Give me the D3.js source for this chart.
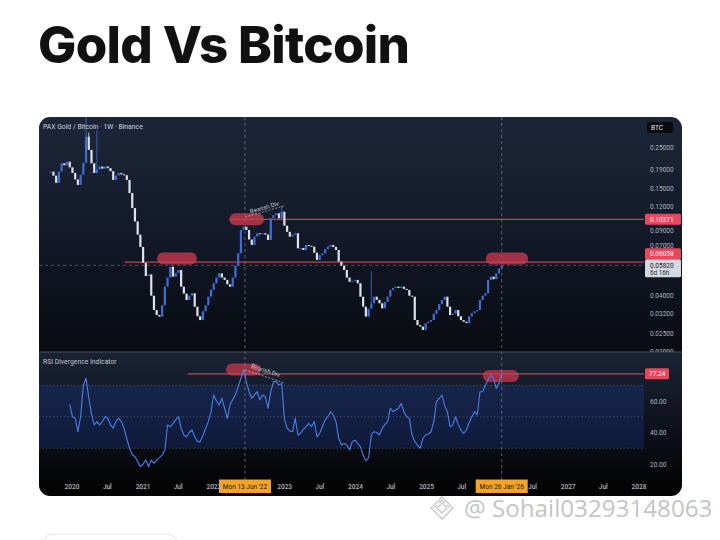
<!DOCTYPE html>
<html>
<head>
<meta charset="utf-8">
<script src="https://cdn.jsdelivr.net/npm/d3@7"></script>
<style>
  html, body { margin: 0; padding: 0; background: #fff; }
  svg { display: block; }
</style>
</head>
<body>
<svg id="chart" width="720" height="540"></svg>
<script>
var startDate = new Date(2019, 8, 16);
var close = [
  0.185, 0.176, 0.161, 0.185, 0.205, 0.200, 0.209, 0.195, 0.182, 0.168,
  0.157, 0.178, 0.206, 0.285, 0.242, 0.205, 0.182, 0.190, 0.197, 0.192,
  0.197, 0.193, 0.186, 0.167, 0.176, 0.182, 0.179, 0.177, 0.167, 0.142,
  0.118, 0.100, 0.085, 0.073, 0.060, 0.051, 0.052, 0.040, 0.0335, 0.0315,
  0.0309, 0.0355, 0.0447, 0.050, 0.0572, 0.0506, 0.053, 0.0549, 0.0447, 0.041,
  0.0379, 0.040, 0.0412, 0.0349, 0.031, 0.0296, 0.033, 0.0355, 0.0395, 0.043,
  0.0466, 0.050, 0.0527, 0.050, 0.0486, 0.046, 0.0447, 0.050, 0.058, 0.0675,
  0.090, 0.0937, 0.090, 0.080, 0.0748, 0.083, 0.0864, 0.086, 0.0864, 0.085,
  0.0796, 0.104, 0.108, 0.1106, 0.104, 0.1128, 0.095, 0.088, 0.0829, 0.085,
  0.0864, 0.0718, 0.072, 0.0703, 0.0748, 0.074, 0.0732, 0.068, 0.0622, 0.066,
  0.0675, 0.071, 0.0732, 0.0748, 0.073, 0.0703, 0.0609, 0.058, 0.0549, 0.050,
  0.0475, 0.048, 0.0486, 0.0466, 0.0395, 0.0349, 0.0309, 0.034, 0.0364, 0.0395,
  0.038, 0.0364, 0.0342, 0.037, 0.0395, 0.0429, 0.044, 0.0447, 0.044, 0.0447,
  0.0435, 0.0429, 0.040, 0.0395, 0.0296, 0.0278, 0.0273, 0.0262, 0.0285, 0.029,
  0.0296, 0.032, 0.0335, 0.036, 0.0379, 0.0395, 0.0349, 0.0315, 0.032, 0.0335,
  0.031, 0.0296, 0.029, 0.0285, 0.031, 0.0322, 0.033, 0.0335, 0.0379, 0.040,
  0.0412, 0.0486, 0.0506, 0.049, 0.0527, 0.056, 0.0582
];
var rsi = [
  null, null, null, null, null, null, null, 57.9, 50, 49,
  40.5, 50, 70, 74.4, 62, 52, 44.8, 46.9, 44.8, 47,
  50, 49, 44.8, 42.7, 47, 49, 46.9, 42.7, 36, 30,
  26, 24.6, 21.5, 18.3, 20, 22.5, 18.3, 22.5, 20.4, 22.5,
  24, 25.7, 28.9, 44.8, 43.7, 45.8, 48, 50, 42.7, 38.4,
  37.3, 40, 41.6, 37.3, 34.2, 34.2, 38, 42.7, 46.9, 53.2,
  63.8, 60, 57.5, 61.7, 55.4, 49, 57.5, 61, 63.8, 69.1,
  74.4, 79.7, 72.3, 65.9, 61.7, 64, 65.9, 60.6, 63.8, 62.7,
  55.4, 66, 72.3, 72.3, 70.2, 71.2, 49, 42.7, 41, 40.5,
  49, 38.4, 39.5, 42, 43.7, 45.8, 43.7, 46.9, 37.3, 39.5,
  43.7, 47.9, 50, 53.2, 51.1, 46.9, 36.3, 32.1, 33, 32.1,
  28.9, 34.2, 35.2, 33, 31, 25.7, 21.9, 24, 38.4, 40.5,
  40, 38.4, 42.7, 45, 46.9, 55.4, 53.2, 54.3, 55.4, 58.5,
  53.2, 50, 49, 38.4, 34.2, 32, 30, 36.3, 38.4, 39,
  40.5, 46.9, 59.6, 61.7, 63.8, 57, 53.2, 43.7, 44.8, 50,
  45, 41.6, 39.5, 41.6, 46, 50, 53.2, 51.1, 65.9, 65.9,
  70, 73.3, 76.5, 74.4, 68.1, 71.2, 77.2
];
// long wicks: [bar index, high]
var wicks = [[13, 0.40], [14, 0.30], [17, 0.31], [85, 0.121], [118, 0.054]];

var priceTicks = [0.25, 0.19, 0.15, 0.12, 0.09, 0.07, 0.04, 0.032, 0.025, 0.02];
var rsiTicks = [60, 40, 20];
var xTicks = ["2020-01-01", "2020-07-01", "2021-01-01", "2021-07-01", "2022-01-01", "2022-07-01",
  "2023-01-01", "2023-07-01", "2024-01-01", "2024-07-01", "2025-01-01", "2025-07-01",
  "2026-01-01", "2026-07-01", "2027-01-01", "2027-07-01", "2028-01-01"];

// horizontal levels [price, start date]
var levels = [[0.10271, "2022-03-25"], [0.06058, "2020-10-01"]];
var rsiLevel = [77.24, "2021-08-22"];
// red highlight pills [from, to, value]
var pricePills = [["2021-03-17", "2021-10-08", 0.0633], ["2022-03-25", "2022-09-19", 0.1028], ["2025-11-06", "2026-06-11", 0.0632]];
var rsiPills = [["2022-03-07", "2022-09-03", 80], ["2025-10-21", "2026-04-24", 75.9]];
// "Bearish Div" segments [from date, from value, to date, to value]
var priceDiv = ["2022-06-13", 0.1055, "2023-01-05", 0.1215];
var rsiDiv = ["2022-06-13", 79.7, "2023-01-05", 71.4];
var crossDates = ["2022-06-13", "2026-01-26"];
var crossLabels = ["Mon 13 Jun '22", "Mon 26 Jan '26"];
var countdown = "6d 16h";

var parse = d3.timeParse("%Y-%m-%d");
var upColor = "#3f6fd6", downColor = "#dfe2ea", redColor = "#e8475c";
var svg = d3.select("#chart");
var box = { x: 39, y: 117, w: 643, h: 379 };
var plotRight = 644, priceBottom = 352, rsiBottom = 480;
var axisFont = "Roboto, 'Open Sans', sans-serif";
var crossHalf = 26;

var x = d3.scaleTime().domain([new Date(2020, 0, 1), new Date(2028, 0, 1)]).range([71.5, 638.5]);
var y = d3.scaleLog().domain([0.02, 0.36]).range([351.8, 117.7]);
var yr = d3.scaleLinear().domain([0, 100]).range([495.5, 338]);

// ---- title ----
var title = svg.append("text")
  .attr("x", 38).attr("y", 63)
  .attr("font-family", "Inter, Lato, sans-serif")
  .attr("font-weight", 800).attr("font-size", 51)
  .attr("fill", "#111").text("Gold Vs Bitcoin");
var tw = title.node().getComputedTextLength();
title.attr("letter-spacing", ((372 - tw) / 14).toFixed(2));

// ---- defs ----
var defs = svg.append("defs");
defs.append("clipPath").attr("id", "boxClip").append("rect")
  .attr("x", box.x).attr("y", box.y).attr("width", box.w).attr("height", box.h).attr("rx", 11);
defs.append("clipPath").attr("id", "priceClip").append("rect")
  .attr("x", box.x).attr("y", box.y).attr("width", plotRight - box.x).attr("height", priceBottom - box.y);
defs.append("clipPath").attr("id", "priceAxisClip").append("rect")
  .attr("x", plotRight).attr("y", box.y).attr("width", box.x + box.w - plotRight).attr("height", priceBottom - box.y);
defs.append("clipPath").attr("id", "rsiClip").append("rect")
  .attr("x", box.x).attr("y", priceBottom).attr("width", plotRight - box.x).attr("height", rsiBottom - priceBottom);

var g1 = defs.append("linearGradient").attr("id", "gPrice").attr("x1", 0).attr("y1", 0).attr("x2", 0).attr("y2", 1);
g1.append("stop").attr("offset", "0%").attr("stop-color", "#1d2639");
g1.append("stop").attr("offset", "55%").attr("stop-color", "#121827");
g1.append("stop").attr("offset", "100%").attr("stop-color", "#090b11");
var g2 = defs.append("linearGradient").attr("id", "gRsi").attr("x1", 0).attr("y1", 0).attr("x2", 0).attr("y2", 1);
g2.append("stop").attr("offset", "0%").attr("stop-color", "#1a2335");
g2.append("stop").attr("offset", "60%").attr("stop-color", "#0d111b");
g2.append("stop").attr("offset", "100%").attr("stop-color", "#040507");

var chart = svg.append("g").attr("clip-path", "url(#boxClip)");

chart.append("rect").attr("x", box.x).attr("y", box.y).attr("width", box.w).attr("height", priceBottom - box.y)
  .attr("fill", "url(#gPrice)");
chart.append("rect").attr("x", box.x).attr("y", priceBottom).attr("width", box.w).attr("height", rsiBottom - priceBottom)
  .attr("fill", "url(#gRsi)");
chart.append("rect").attr("x", box.x).attr("y", rsiBottom).attr("width", box.w).attr("height", box.y + box.h - rsiBottom)
  .attr("fill", "#040405");

// ---- RSI band and guides ----
var rsiG = chart.append("g").attr("clip-path", "url(#rsiClip)");
rsiG.append("rect").attr("x", box.x).attr("width", plotRight - box.x)
  .attr("y", yr(70)).attr("height", yr(30) - yr(70))
  .attr("fill", "#2962ff").attr("fill-opacity", 0.16);
rsiG.selectAll("line.guide").data([70, 50, 30]).join("line").attr("class", "guide")
  .attr("x1", box.x).attr("x2", plotRight)
  .attr("y1", function(d) { return yr(d); }).attr("y2", function(d) { return yr(d); })
  .attr("stroke", "#8a8e99").attr("stroke-opacity", 0.55).attr("stroke-width", 0.7)
  .attr("stroke-dasharray", "1.5,2");

// ---- crosshair ----
chart.selectAll("line.vcross").data(crossDates).join("line").attr("class", "vcross")
  .attr("x1", function(d) { return x(parse(d)); }).attr("x2", function(d) { return x(parse(d)); })
  .attr("y1", box.y).attr("y2", rsiBottom)
  .attr("stroke", "#9598a1").attr("stroke-opacity", 0.8).attr("stroke-width", 0.7)
  .attr("stroke-dasharray", "3,3");

var bars = close.map(function(c, i) {
  return { date: d3.timeDay.offset(startDate, 14 * i), open: i > 0 ? close[i - 1] : c, close: c, rsi: rsi[i] };
});
var last = bars[bars.length - 1];

var priceG = chart.append("g").attr("clip-path", "url(#priceClip)");
priceG.append("line").attr("x1", box.x).attr("x2", plotRight)
  .attr("y1", y(last.close)).attr("y2", y(last.close))
  .attr("stroke", "#9598a1").attr("stroke-opacity", 0.7).attr("stroke-width", 0.7).attr("stroke-dasharray", "3,3");

// ---- price levels & pills ----
priceG.selectAll("line.level").data(levels).join("line").attr("class", "level")
  .attr("x1", function(d) { return x(parse(d[1])); }).attr("x2", plotRight)
  .attr("y1", function(d) { return y(d[0]); }).attr("y2", function(d) { return y(d[0]); })
  .attr("stroke", redColor).attr("stroke-opacity", 0.85).attr("stroke-width", 1.3);

priceG.selectAll("rect.pill").data(pricePills).join("rect").attr("class", "pill")
  .attr("x", function(d) { return x(parse(d[0])); })
  .attr("width", function(d) { return x(parse(d[1])) - x(parse(d[0])); })
  .attr("y", function(d) { return y(d[2]) - 6; }).attr("height", 12).attr("rx", 6)
  .attr("fill", "#d23c50").attr("fill-opacity", 0.75);

// ---- candles ----
priceG.selectAll("line.wick").data(wicks).join("line").attr("class", "wick")
  .attr("x1", function(d) { return x(bars[d[0]].date); }).attr("x2", function(d) { return x(bars[d[0]].date); })
  .attr("y1", function(d) { return y(Math.max(bars[d[0]].open, bars[d[0]].close)); })
  .attr("y2", function(d) { return y(d[1]); })
  .attr("stroke", function(d) { var b = bars[d[0]]; return b.close >= b.open ? upColor : downColor; })
  .attr("stroke-width", 0.8);
priceG.selectAll("rect.bar").data(bars).join("rect").attr("class", "bar")
  .attr("x", function(d) { return x(d.date) - 1.1; }).attr("width", 2.2)
  .attr("y", function(d) { return y(Math.max(d.open, d.close)); })
  .attr("height", function(d) { return Math.max(1, Math.abs(y(d.open) - y(d.close))); })
  .attr("fill", function(d) { return d.close >= d.open ? upColor : downColor; });

// ---- bearish div annotations ----
function divMark(g, seg, ys, off) {
  var x0 = x(parse(seg[0])), y0 = ys(seg[1]), x1 = x(parse(seg[2])), y1 = ys(seg[3]);
  g.append("line").attr("x1", x0).attr("y1", y0).attr("x2", x1).attr("y2", y1)
    .attr("stroke", "#c9ccd4").attr("stroke-width", 0.7).attr("stroke-dasharray", "2,1.5");
  var ang = Math.atan2(y1 - y0, x1 - x0) * 180 / Math.PI;
  g.append("text")
    .attr("transform", "translate(" + ((x0 + x1) / 2) + "," + ((y0 + y1) / 2 - off) + ") rotate(" + ang + ")")
    .attr("text-anchor", "middle").attr("font-family", axisFont).attr("font-size", 6)
    .attr("fill", "#c9ccd4").text("Bearish Div");
}
divMark(priceG, priceDiv, y, 2);

// ---- RSI line, level, pills ----
rsiG.append("line").attr("x1", x(parse(rsiLevel[1]))).attr("x2", plotRight)
  .attr("y1", yr(rsiLevel[0])).attr("y2", yr(rsiLevel[0]))
  .attr("stroke", redColor).attr("stroke-opacity", 0.85).attr("stroke-width", 1.2);
rsiG.selectAll("rect.pill").data(rsiPills).join("rect").attr("class", "pill")
  .attr("x", function(d) { return x(parse(d[0])); })
  .attr("width", function(d) { return x(parse(d[1])) - x(parse(d[0])); })
  .attr("y", function(d) { return yr(d[2]) - 6; }).attr("height", 12).attr("rx", 6)
  .attr("fill", "#d23c50").attr("fill-opacity", 0.7);
rsiG.append("path").datum(bars)
  .attr("d", d3.line().defined(function(d) { return d.rsi != null; })
    .x(function(d) { return x(d.date); }).y(function(d) { return yr(d.rsi); }))
  .attr("fill", "none").attr("stroke", "#4a7fe8").attr("stroke-width", 1.1).attr("stroke-linejoin", "round");
divMark(rsiG, rsiDiv, yr, 4);

// separator between panels
chart.append("line").attr("x1", box.x).attr("x2", box.x + box.w).attr("y1", priceBottom).attr("y2", priceBottom)
  .attr("stroke", "#4a4f5c").attr("stroke-width", 1);

// ---- panel headers ----
chart.append("text").attr("x", 43).attr("y", 129).attr("font-family", axisFont).attr("font-size", 6.8)
  .attr("fill", "#d1d4dc").text("PAX Gold / Bitcoin \u00b7 1W \u00b7 Binance");
chart.append("text").attr("x", 43).attr("y", 364).attr("font-family", axisFont).attr("font-size", 6.8)
  .attr("fill", "#c3c6ce").text("RSI Divergence Indicator");

// ---- right-side label boxes: work out where they sit first ----
var curY = y(last.close);
var curTop = curY - 6;
var levelY = levels.map(function(d) { return Math.min(y(d[0]), curTop - 5.5); });

// ---- price axis ----
var pAxis = chart.append("g").attr("clip-path", "url(#priceAxisClip)").append("g")
  .attr("transform", "translate(" + plotRight + ",0)")
  .call(d3.axisRight(y).tickValues(priceTicks).tickFormat(d3.format(".5f")).tickSize(0).tickPadding(6));
pAxis.select(".domain").remove();
pAxis.selectAll("text").attr("font-family", axisFont).attr("font-size", 6.5).attr("fill", "#b2b5be");
// a tick that falls behind a level box peeks out just above it
pAxis.selectAll(".tick").each(function(v) {
  var ty = y(v);
  levelY.forEach(function(ly) {
    if (Math.abs(ty - ly) < 8 && ty < ly) {
      d3.select(this).select("text").attr("dy", (ly - 5.5 - 2.6 - ty) + "px").attr("dominant-baseline", "middle");
    }
  }, this);
});

var lblG = chart.append("g");
lblG.append("rect").attr("x", 647).attr("y", 122).attr("width", 26).attr("height", 11).attr("rx", 2).attr("fill", "#090a0e");
lblG.append("text").attr("x", 651).attr("y", 129.8).attr("font-family", axisFont).attr("font-size", 6.5)
  .attr("fill", "#e6e8ee").text("BTC");

// current price box
lblG.append("rect").attr("x", 645).attr("y", curTop).attr("width", 36).attr("height", 18).attr("rx", 1.5).attr("fill", "#d5d8df");
lblG.append("text").attr("x", 650).attr("y", curY + 2.3).attr("font-family", axisFont).attr("font-size", 6.5)
  .attr("fill", "#131722").text(d3.format(".5f")(last.close));
lblG.append("text").attr("x", 650).attr("y", curY + 9.6).attr("font-family", axisFont).attr("font-size", 6.3)
  .attr("fill", "#2a2e39").text(countdown);

// level boxes (pushed above the current price box when they would overlap)
levels.forEach(function(d, i) {
  var cy = levelY[i];
  lblG.append("rect").attr("x", 645).attr("y", cy - 5.5).attr("width", 36).attr("height", 11).attr("rx", 1.5).attr("fill", redColor);
  lblG.append("text").attr("x", 650).attr("y", cy + 2.3).attr("font-family", axisFont).attr("font-size", 6.5)
    .attr("fill", "#fff").text(d3.format(".5f")(d[0]));
});

// ---- RSI axis ----
var rAxis = chart.append("g").attr("transform", "translate(" + plotRight + ",0)")
  .call(d3.axisRight(yr).tickValues(rsiTicks).tickFormat(d3.format(".2f")).tickSize(0).tickPadding(6));
rAxis.select(".domain").remove();
rAxis.selectAll("text").attr("font-family", axisFont).attr("font-size", 6.5).attr("fill", "#b2b5be");
lblG.append("rect").attr("x", 645).attr("y", yr(rsiLevel[0]) - 5.5).attr("width", 24).attr("height", 11).attr("rx", 1.5).attr("fill", redColor);
lblG.append("text").attr("x", 649).attr("y", yr(rsiLevel[0]) + 2.3).attr("font-family", axisFont).attr("font-size", 6.5)
  .attr("fill", "#fff").text(d3.format(".2f")(rsiLevel[0]));

// ---- time axis (ticks hidden under a crosshair date label are skipped) ----
var shownTicks = xTicks.map(parse).filter(function(t) {
  return crossDates.every(function(c) { return Math.abs(x(t) - x(parse(c))) > crossHalf - 2; });
});
var xAxis = chart.append("g").attr("transform", "translate(0," + rsiBottom + ")")
  .call(d3.axisBottom(x).tickValues(shownTicks).tickSize(0).tickPadding(4)
    .tickFormat(function(d) { return d.getMonth() === 0 ? d3.timeFormat("%Y")(d) : d3.timeFormat("%b")(d); }));
xAxis.select(".domain").remove();
xAxis.selectAll("text").attr("font-family", axisFont).attr("font-size", 6.5).attr("font-weight", 500).attr("fill", "#b2b5be");

crossDates.forEach(function(d, i) {
  var cx = x(parse(d));
  lblG.append("rect").attr("x", cx - crossHalf).attr("y", 479.5).attr("width", crossHalf * 2).attr("height", 13.5).attr("fill", "#f6a323");
  lblG.append("text").attr("x", cx).attr("y", 488.6).attr("text-anchor", "middle").attr("font-family", axisFont)
    .attr("font-size", 6.5).attr("fill", "#131722").text(crossLabels[i]);
});

// ---- page extras: watermark and button outline ----
var wm = svg.append("g").attr("fill", "none").attr("stroke", "#c9c9c9").attr("stroke-width", 1.4);
wm.append("path").attr("d", "M442,497 L453,508 L442,519 L431,508 Z");
wm.append("path").attr("d", "M442,503 L447,508 L442,513 L437,508 Z");
wm.append("path").attr("d", "M434,508 L437,505 M450,508 L447,505 M442,500 L445,503 M442,500 L439,503");
svg.append("text").attr("x", 464).attr("y", 517).attr("font-family", "'Open Sans', sans-serif")
  .attr("font-size", 24.2).attr("fill", "#c4c4c4").text("@ Sohail03293148063");

svg.append("rect").attr("x", 42).attr("y", 534).attr("width", 136).attr("height", 30).attr("rx", 11)
  .attr("fill", "none").attr("stroke", "#e4e4e4").attr("stroke-width", 1);
</script>
</body>
</html>
